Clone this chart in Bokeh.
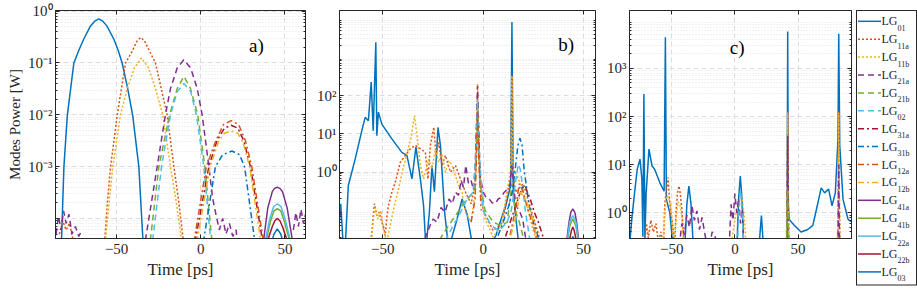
from bokeh.plotting import figure
from bokeh.layouts import row
from bokeh.models import Range1d, FixedTicker, LogAxis, LinearAxis, Label, CustomJSTickFormatter, Div
from bokeh.embed import file_html
from bokeh.resources import INLINE

NAN = float("nan")

MODES = ["01", "11a", "11b", "21a", "21b", "02", "31a", "31b", "12a", "12b", "41a", "41b", "22a", "22b", "03"]

X_TICKS = [-50, 0, 50]

A_YTICKS = [1e-4, 1e-3, 1e-2, 1e-1, 1]
A_YLABELS = ["", "10⁻³", "10⁻²", "10⁻¹", "10⁰"]
B_YTICKS = [1, 10, 100]
B_YLABELS = ["10⁰", "10¹", "10²"]
C_YTICKS = [1, 10, 100, 1000]
C_YLABELS = ["10⁰", "10¹", "10²", "10³"]

# ---------------- panel a) ----------------
A_T_01 = [-84, -82.7, -81.3, -79.3, -75.4, -72.3, -69.5, -65.5, -63, -60.6, -58.2, -55.8, -51.7, -49.2, -46.7, -43.5, -40.4, -36.8, -34.4, -33]
A_P_01 = [1e-5, 4e-5, 1e-3, 9.5e-3, 0.1, 0.18, 0.29, 0.52, 0.64, 0.71, 0.64, 0.52, 0.29, 0.18, 0.1, 0.033, 9.5e-3, 1e-3, 4e-5, 1e-5]
A_T_11a = [-84, -82, -80, -78, -76, NAN, -58.5, -57, -55.5, -53.6, -49.6, -44.7, -40.7, -38, -35.8, -33.5, -30.5, -26.9, -20.0, -16.0, -13, -10.5, -9]
A_P_11a = [5e-5, 9e-5, 6e-5, 8e-5, 4e-5, NAN, 1e-5, 4e-5, 2e-4, 1e-3, 1e-2, 0.1, 0.17, 0.26, 0.31, 0.27, 0.17, 0.1, 1e-2, 1e-3, 2e-4, 4e-5, 1e-5]
A_T_11b = [-58, -56.6, -52.3, -47.7, -43.7, -39.5, -35.2, -31, -26.9, -22.6, -18.0, -14.5, -11.5, -10]
A_P_11b = [1e-5, 4e-5, 1e-3, 1e-2, 3.2e-2, 8e-2, 0.125, 8e-2, 3.2e-2, 1e-2, 1e-3, 2e-4, 4e-5, 1e-5]
A_T_21a = [-86, -84.5, -83, -81.5, -80, -78.3, -76.5, -74.5, -72.5, -70.5, NAN, -34, -32.8, -25.9, -21, -18, -14, -10.1, -6, -2.1, 0.8, 4.8, 7, 9, 11, 13, 15, 17, 19, 21, 23, NAN, 55, 56.5, 58, 59.5, 61, 62.2]
A_P_21a = [5e-5, 1.1e-4, 6e-5, 1.4e-4, 8e-5, 1.2e-4, 5e-5, 7e-5, 4.5e-5, 6e-5, NAN, 1e-5, 4e-5, 1e-3, 1e-2, 3.2e-2, 8e-2, 0.115, 8e-2, 3.2e-2, 1e-2, 1e-3, 2.5e-4, 1.2e-4, 6e-5, 1e-4, 5e-5, 8e-5, 4.5e-5, 6e-5, 1e-5, NAN, 6e-5, 1.3e-4, 7e-5, 1.5e-4, 8e-5, 1.2e-4]
A_T_21b = [-31, -29.9, -24.9, -18.5, -14, -10, -6.1, -1.8, 2.4, 6.5, 8]
A_P_21b = [1e-5, 4e-5, 1e-3, 1e-2, 3.2e-2, 5.5e-2, 3.2e-2, 1e-2, 1e-3, 4e-5, 1e-5]
A_T_02 = [-30, -28.5, -23.3, -18, -14, -10, -6, -2.6, 1.8, 5.8, 7]
A_P_02 = [1e-5, 4e-5, 1e-3, 1e-2, 2.8e-2, 4e-2, 2.8e-2, 1e-2, 1e-3, 4e-5, 1e-5]
A_T_31a = [-5, -3.1, 4.8, 9.7, 14, 18, 22, 25.5, 29.5, 36.5, 38]
A_P_31a = [1e-5, 4e-5, 1e-3, 3.2e-3, 5.5e-3, 6.3e-3, 5.5e-3, 3.2e-3, 1e-3, 4e-5, 1e-5]
A_T_31b = [0, 1.8, 8.7, 13, 18.5, 23, 26, 31.9, 33]
A_P_31b = [1e-5, 4e-5, 1e-3, 1.7e-3, 2e-3, 1.7e-3, 1e-3, 4e-5, 1e-5]
A_T_12a = [-5.5, -3.8, 3.3, 9, 13.5, 18, 22.5, 26.5, 30.3, 37, 38.5]
A_P_12a = [1e-5, 4e-5, 1e-3, 3.2e-3, 6.5e-3, 7.7e-3, 6.5e-3, 3.2e-3, 1e-3, 4e-5, 1e-5]
A_T_12b = [-3.5, -2, 5.5, 10.5, 14, 18, 22, 25, 29, 35.5, 37]
A_P_12b = [1e-5, 4e-5, 1e-3, 3e-3, 4.4e-3, 4.9e-3, 4.4e-3, 3e-3, 1e-3, 4e-5, 1e-5]
A_T_41a = [36, 37.4, 39.8, 42.5, 43.8, 45.4, 47, 48.5, 51.3, 54.3, 55.5]
A_P_41a = [1e-5, 4e-5, 1.6e-4, 3.3e-4, 3.8e-4, 4e-4, 3.8e-4, 3.3e-4, 1.6e-4, 4e-5, 1e-5]
A_T_41b = [37.5, 39, 41.5, 43.5, 45.4, 47.5, 49.5, 52.5, 54]
A_P_41b = [1e-5, 4e-5, 9e-5, 1.4e-4, 1.55e-4, 1.4e-4, 9e-5, 4e-5, 1e-5]
A_T_22a = [37, 38.5, 41, 43.3, 45.4, 47.6, 50, 53, 55]
A_P_22a = [1e-5, 4e-5, 1e-4, 1.7e-4, 1.9e-4, 1.7e-4, 1e-4, 4e-5, 1e-5]
A_T_22b = [38.5, 40, 42.5, 44, 45.4, 47, 48.5, 51, 52.5]
A_P_22b = [1e-5, 4e-5, 7e-5, 9e-5, 1e-4, 9e-5, 7e-5, 4e-5, 1e-5]
A_T_03 = [40, 41.5, 43.5, 45.4, 47.5, 49.5, 51]
A_P_03 = [1e-5, 3e-5, 5e-5, 6.3e-5, 5e-5, 3e-5, 1e-5]

# ---------------- panel b) ----------------
B_T_01 = [-72, -71, -70, -69, -68.8, -67.2, -63.8, -60.5, -58.8, -57.2, -55.8, -54.8, -53.5, -53, -52.2, -50.5, -45.5, -40.5, -38, -35.5, -33.5, -31.3, -29.7, -28.5, -26.8, -25.5, -24.3, -22.5, -21.3, -19.2, -17.2, -13, -10.5, -8, -6, -4, 2, 6.35, 9, 11.3, 13.7, 14.35, 15, 16.35, 18]
B_P_01 = [0.03, 0.15, 0.02, 0.005, 0.01, 0.45, 2.2, 12, 27, 22, 224, 12, 2460, 9, 37, 18, 7.4, 3.3, 2.75, 0.67, 4.5, 0.67, 0.135, 0.01, 0.09, 1.5, 0.31, 14.7, 5, 0.09, 0.01, 0.06, 0.2, 0.08, 0.02, 0.01, 0.01, 0.022, 0.06, 0.135, 0.45, 8300, 0.31, 0.06, 0.01]
B_T_11a = [-56.5, -55.5, -54.2, -53, -51.8, -50.5, -49.5, -48.8, -48, -47.2, -45.5, -43.8, -41.3, -38.8, -36.3, -33.8, -31.3, -28.8, -27.5, -26.3, -24.6, -23.5, -22.2, -20.5, -18.8, -16.3, -13.8, -11.3, -8.8, -6, -4, -2.8, -1.5, 0, 5, 10, 13.8, 14.35, 14.9, 16, 20, 24, 28]
B_P_11a = [0.01, 0.027, 0.15, 0.074, 0.09, 0.05, 0.035, 0.022, 0.068, 0.135, 0.3, 0.55, 1.8, 2.75, 4.1, 5, 4.1, 3.3, 0.67, 5, 15, 2.75, 6, 1.5, 2.75, 1, 1.5, 0.67, 0.3, 0.15, 0.5, 75, 0.5, 0.1, 0.03, 0.05, 1, 330, 1, 0.3, 0.5, 0.1, 0.02]
B_T_11b = [-56, -55, -54, -52.5, -51, -49.5, -48, -46, -44, -42, -40, -38, -36, -34.2, -32.8, -31.3, -29.7, -27.2, -25.5, -23.8, -22.2, -20.5, -18.8, -17, -15.5, -13.8, -12.2, -10.5, -8.8, -6, -4, -2.8, -1.6, 1, 5, 9, 13.8, 14.35, 14.9, 17, 20, 25, 28]
B_P_11b = [0.01, 0.04, 0.12, 0.06, 0.1, 0.03, 0.015, 0.05, 0.15, 0.4, 1.2, 3, 8, 30, 7.4, 1.5, 0.67, 2.2, 1.2, 4.1, 1.8, 3, 1, 2, 1.5, 0.8, 0.45, 0.3, 0.09, 0.05, 0.3, 200, 0.4, 0.06, 0.02, 0.04, 1.2, 330, 1.2, 0.8, 0.3, 0.03, 0.01]
B_T_21a = [-30, -28.8, -26.5, -25, -23, -21, -19, -17, -15.4, -13.8, -12.3, -11, -9.8, -8.65, -7.3, -6, -4.8, -4, -3.3, -2.8, -2.3, -1.5, 0, 1.5, 3, 4.5, 6, 7.5, 9, 10.5, 12, 13.3, 14.35, 15.5, 16.35, 18, 19.7, 22]
B_P_21a = [0.01, 0.02, 0.04, 0.06, 0.05, 0.12, 0.09, 0.2, 0.15, 0.3, 0.25, 0.6, 0.4, 1.5, 0.5, 0.6, 0.35, 1.2, 20, 180, 20, 0.8, 0.3, 0.22, 0.2, 0.16, 0.15, 0.2, 0.22, 0.3, 0.35, 0.45, 1.5, 0.3, 0.135, 0.1, 0.06, 0.01]
B_T_21b = [-24, -21, -18, -15, -12, -10, -8, -6, -4, -3.3, -2.8, -2.3, -1.5, 1, 5, 9, 12, 14.35, 16, 18, 20, 22]
B_P_21b = [0.01, 0.02, 0.035, 0.06, 0.1, 0.15, 0.2, 0.25, 0.4, 5, 60, 5, 0.5, 0.1, 0.05, 0.04, 0.05, 0.5, 0.1, 0.05, 0.02, 0.01]
B_T_02 = [-22, -18, -15, -13, -10, -8, -5, -3.3, -2.8, -2.2, 0, 4, 8, 12, 14, 16, 17.5, 18.5, 19.5, 21, 24]
B_P_02 = [0.01, 0.02, 0.04, 0.06, 0.12, 0.2, 0.3, 5, 80, 5, 0.1, 0.04, 0.03, 0.05, 0.1, 0.5, 1.6, 1.2, 0.5, 0.1, 0.01]
B_T_31a = [8, 11.3, 14, 16.35, 18, 19.7, 21, 22, 23.5, 25.5, 27.5, 29.7, 31]
B_P_31a = [0.01, 0.022, 0.06, 0.135, 0.25, 0.4, 0.45, 0.3, 0.2, 0.09, 0.05, 0.022, 0.01]
B_T_31b = [5, 10, 12.5, 14.5, 16.2, 17.3, 18.35, 19.4, 20.5, 22, 23, 25, 27.2, 29]
B_P_31b = [0.01, 0.05, 0.12, 0.3, 1.5, 5, 7.7, 5, 1.05, 0.3, 0.13, 0.05, 0.022, 0.01]
B_T_12a = [-6, -4, -3.3, -2.8, -2.3, -1, NAN, 12, 16, 18, 20, 22, 25, 28]
B_P_12a = [0.05, 0.2, 3, 40, 3, 0.1, NAN, 0.01, 0.1, 0.5, 0.3, 0.12, 0.04, 0.01]
B_T_12b = [12, 16, 18.5, 21, 23.5, 26, 28]
B_P_12b = [0.01, 0.06, 0.3, 0.2, 0.1, 0.03, 0.01]
B_T_41a = [40.5, 41.8, 42.8, 43.7, 44.7, 45.7, 46.6, 47.5, 49]
B_P_41a = [0.005, 0.0186, 0.05, 0.09, 0.11, 0.09, 0.05, 0.0186, 0.005]
B_T_41b = [41, 42.2, 43.2, 44.7, 46.2, 47.2, 48.4]
B_P_41b = [0.005, 0.0186, 0.04, 0.06, 0.04, 0.0186, 0.005]
B_T_22a = [41, 42.1, 43.1, 44.7, 46.3, 47.3, 48.4]
B_P_22a = [0.005, 0.0186, 0.05, 0.074, 0.05, 0.0186, 0.005]
B_T_22b = [42, 43.2, 44, 44.7, 45.4, 46.2, 47.4]
B_P_22b = [0.005, 0.0186, 0.03, 0.037, 0.03, 0.0186, 0.005]
B_T_03 = [43, 43.9, 44.7, 45.5, 46.4]
B_P_03 = [0.005, 0.016, 0.021, 0.016, 0.005]

# ---------------- panel c) ----------------
C_T_01 = [-83.4, -81.6, -79.4, -77.3, -75.1, -73.6, -72.8, -72, -71.2, -70.2, -68, -65.6, -63.5, -59.5, -56, -55, -54.2, -51.5, -48.9, -39.6, -38, -36.4, -34.7, -32.9, 1.6, 3, 4.3, 5.6, 7, 19.1, 21, 22.6, 41.3, 41.8, 42.3, 43, 47, 52.4, 57.7, 61.7, 65.2, 68.3, 71, 74.2, 76.9, 79.5, 81.6, 82.2, 83, 85.6, 89.6, 92.3]
C_P_01 = [0.2, 0.73, 2.6, 8, 13, 5, 0.32, 293, 0.3, 2.6, 21, 9.5, 8, 4.3, 2.8, 4400, 1.9, 1, 0.2, 0.2, 1.5, 3.6, 1.5, 0.2, 0.2, 2, 5.8, 2, 0.2, 0.2, 0.88, 0.2, 0.2, 5800, 1.5, 0.73, 0.55, 0.4, 0.45, 0.55, 1.4, 3.3, 2.6, 3.1, 1.4, 2.6, 34, 5200, 25, 1.9, 0.73, 0.65]
C_T_11a = [-71.5, -70, -68.5, -66.5, -64.5, -62.5, -60.5, -58.5, -56.5, -55.5, -54.2, -52.9, -51.8, -50.7, -49, -47.6, -46.5, -45.4, -44.3, -43.2, -42.2, -40, NAN, 40.8, 41.5, 41.8, 42.1, 42.8, NAN, 81.2, 81.9, 82.2, 82.5, 83.2]
C_P_11a = [0.2, 0.6, 0.3, 0.7, 0.4, 0.6, 0.25, 0.4, 0.2, 1.5, 3, 5.4, 2, 1, 0.5, 0.2, 1.2, 2.6, 3.6, 2.5, 1.4, 0.2, NAN, 0.2, 5, 130, 5, 0.2, NAN, 0.2, 5, 130, 5, 0.2]
C_T_11b = [-57, -55.5, -54, -52.5, -51, -49.5, -48.2, -46.5, -45, -43.5, -42, -40.5, NAN, -3, -1, 1, 3, 4.5, 6, 7.5, 9, NAN, 40.8, 41.5, 41.8, 42.1, 42.8, NAN, 81.2, 81.9, 82.2, 82.5, 83.2]
C_P_11b = [0.2, 1, 2.3, 2.1, 1.5, 0.6, 0.2, 0.8, 1.7, 1.5, 0.9, 0.2, NAN, 0.2, 0.5, 1, 1.5, 2.5, 1.8, 0.8, 0.2, NAN, 0.2, 4, 120, 4, 0.2, NAN, 0.2, 4, 120, 4, 0.2]
C_T_21a = [-44, -42, -40, -38, -36, -34, -32, -30, -28, -26, -24, -22, NAN, -20, -18, -16, -14, NAN, -4.5, -3, -1.5, 0, 1.5, 3, 4.5, 6, 7, NAN, 41.2, 41.8, 42.4, NAN, 81.6, 82.2, 82.8]
C_P_21a = [0.2, 0.6, 0.35, 0.9, 0.5, 1.4, 0.7, 1.1, 0.45, 0.8, 0.4, 0.2, NAN, 0.2, 0.4, 0.35, 0.2, NAN, 0.2, 1.5, 0.7, 2.5, 1, 2, 0.6, 1.2, 0.2, NAN, 0.2, 40, 0.2, NAN, 0.2, 10, 0.2]
C_T_21b = [40.9, 41.8, 42.7]
C_P_21b = [0.2, 3, 0.2]
C_T_02 = [2, 3.5, 4.5, 5.5, 7]
C_P_02 = [0.2, 1.5, 3, 1.2, 0.2]

PANEL_A = {"01": (A_T_01, A_P_01), "11a": (A_T_11a, A_P_11a), "11b": (A_T_11b, A_P_11b),
           "21a": (A_T_21a, A_P_21a), "21b": (A_T_21b, A_P_21b), "02": (A_T_02, A_P_02),
           "31a": (A_T_31a, A_P_31a), "31b": (A_T_31b, A_P_31b), "12a": (A_T_12a, A_P_12a),
           "12b": (A_T_12b, A_P_12b), "41a": (A_T_41a, A_P_41a), "41b": (A_T_41b, A_P_41b),
           "22a": (A_T_22a, A_P_22a), "22b": (A_T_22b, A_P_22b), "03": (A_T_03, A_P_03)}
PANEL_B = {"01": (B_T_01, B_P_01), "11a": (B_T_11a, B_P_11a), "11b": (B_T_11b, B_P_11b),
           "21a": (B_T_21a, B_P_21a), "21b": (B_T_21b, B_P_21b), "02": (B_T_02, B_P_02),
           "31a": (B_T_31a, B_P_31a), "31b": (B_T_31b, B_P_31b), "12a": (B_T_12a, B_P_12a),
           "12b": (B_T_12b, B_P_12b), "41a": (B_T_41a, B_P_41a), "41b": (B_T_41b, B_P_41b),
           "22a": (B_T_22a, B_P_22a), "22b": (B_T_22b, B_P_22b), "03": (B_T_03, B_P_03)}
PANEL_C = {"01": (C_T_01, C_P_01), "11a": (C_T_11a, C_P_11a), "11b": (C_T_11b, C_P_11b),
           "21a": (C_T_21a, C_P_21a), "21b": (C_T_21b, C_P_21b), "02": (C_T_02, C_P_02)}

# ---------------- styles ----------------
BLUE, ORANGE, YELLOW, PURPLE, GREEN, CYAN, RED = "#0072BD", "#D95319", "#EDB120", "#7E2F8E", "#77AC30", "#4DBEEE", "#A2142F"
COLORS = [BLUE, ORANGE, YELLOW, PURPLE, GREEN, CYAN, RED, BLUE, ORANGE, YELLOW, PURPLE, GREEN, CYAN, RED, BLUE]
DOT, DASH, DASHDOT = "2 2", "6 4", "6 3 2 3"
DASHES = ["solid", DOT, DOT, DASH, DASH, DASH, DASHDOT, DASHDOT, DASHDOT, DASHDOT,
          "solid", "solid", "solid", "solid", "solid"]

FONT = "Liberation Serif"
INK = "#262626"
H = 290


def minor_log(lo, hi):
    return [k * 10.0 ** d for d in range(lo, hi) for k in range(2, 10)]


def style_axis(ax, fs="15px"):
    ax.axis_line_color = INK
    ax.major_tick_line_color = INK
    ax.minor_tick_line_color = INK
    ax.major_tick_in = 4
    ax.major_tick_out = 0
    ax.minor_tick_in = 2
    ax.minor_tick_out = 0
    ax.major_label_text_font = FONT
    ax.major_label_text_font_size = fs
    ax.major_label_text_color = INK
    ax.axis_label_text_font = FONT
    ax.axis_label_text_font_style = "normal"
    ax.axis_label_text_color = INK


def make_panel(data, xr, yr, yticks, ylabels, yminor, width, bl, br, letter, lx, ly, ylabel=None):
    p = figure(width=width, height=H, output_backend="svg", toolbar_location=None,
               x_range=Range1d(*xr), y_range=Range1d(*yr), y_axis_type="log",
               min_border_left=bl, min_border_right=br, min_border_top=10, min_border_bottom=52)
    p.background_fill_color = "white"
    p.border_fill_color = "white"
    p.outline_line_color = INK
    p.outline_line_width = 1

    xt = FixedTicker(ticks=X_TICKS, minor_ticks=[])
    yt = FixedTicker(ticks=yticks, minor_ticks=yminor)
    p.xaxis.ticker = xt
    p.yaxis.ticker = yt
    p.xgrid.ticker = xt
    p.ygrid.ticker = yt
    p.yaxis.major_label_overrides = dict(zip(yticks, ylabels))
    for ax in p.xaxis + p.yaxis:
        style_axis(ax)
    p.xaxis.axis_label = "Time [ps]"
    p.xaxis.axis_label_text_font_size = "17px"
    p.xaxis.major_label_standoff = 5
    p.xaxis.axis_label_standoff = 3
    p.yaxis.major_label_standoff = 3
    if ylabel:
        p.yaxis.axis_label = ylabel
        p.yaxis.axis_label_text_font_size = "15px"
        p.yaxis.axis_label_standoff = 2

    blank = CustomJSTickFormatter(code="return ''")
    ra = LogAxis(ticker=yt, formatter=blank, major_label_standoff=0)
    ta = LinearAxis(ticker=xt, formatter=blank, major_label_standoff=0)
    style_axis(ra, "0px")
    style_axis(ta, "0px")
    p.add_layout(ra, "right")
    p.add_layout(ta, "above")

    for g in p.xgrid + p.ygrid:
        g.grid_line_color = "#dcdcdc"
        g.grid_line_dash = "5 3"
        g.grid_line_width = 1
    p.ygrid.minor_grid_line_color = "#e2e2e2"
    p.ygrid.minor_grid_line_dash = "1 2"

    for i, m in enumerate(MODES):
        if m in data:
            t, pw = data[m]
            p.line(t, pw, line_color=COLORS[i], line_dash=DASHES[i], line_width=1.5)

    p.add_layout(Label(x=lx, y=ly, text=letter, text_font=FONT, text_font_size="19px",
                       text_color="black", text_align="center", text_baseline="middle"))
    return p


pa = make_panel(PANEL_A, (-86.3, 62.2), (4.1e-5, 1.03), A_YTICKS, A_YLABELS, minor_log(-5, 1),
                307, 55, 2, "a)", 33, 0.22, ylabel="Modes Power [W]")
pb = make_panel(PANEL_B, (-71.6, 56), (0.0186, 16600), B_YTICKS, B_YLABELS, minor_log(-2, 5),
                289, 32, 1, "b)", 41.4, 2150)
pc = make_panel(PANEL_C, (-83.4, 92.3), (0.293, 15900), C_YTICKS, C_YLABELS, minor_log(-1, 5),
                257, 33, 2, "c)", 1.75, 2700)

# ---------------- legend (inline SVG in a Div) ----------------
LW = 64
parts = ['<svg xmlns="http://www.w3.org/2000/svg" width="%d" height="%d" style="display:block">' % (LW, H),
         '<rect x="3.5" y="10.5" width="60" height="274.5" fill="white" stroke="%s" stroke-width="1"/>' % INK]
for i, m in enumerate(MODES):
    y = 21.3 + i * 17.9
    dash = "" if DASHES[i] == "solid" else ' stroke-dasharray="%s"' % DASHES[i]
    parts.append('<line x1="5" y1="%.1f" x2="28" y2="%.1f" stroke="%s" stroke-width="1.5"%s/>'
                 % (y, y, COLORS[i], dash))
    parts.append('<text x="28.5" y="%.1f" style="font-family:\'%s\';font-size:12px" fill="%s">LG'
                 '<tspan style="font-size:8px" dy="5.4">%s</tspan></text>' % (y + 4, FONT, INK, m))
parts.append('</svg>')
legend = Div(text="".join(parts), width=LW, height=H, margin=(0, 0, 0, 0))

layout = row(pa, pb, pc, legend)
open("out.html", "w").write(file_html(layout, INLINE))
